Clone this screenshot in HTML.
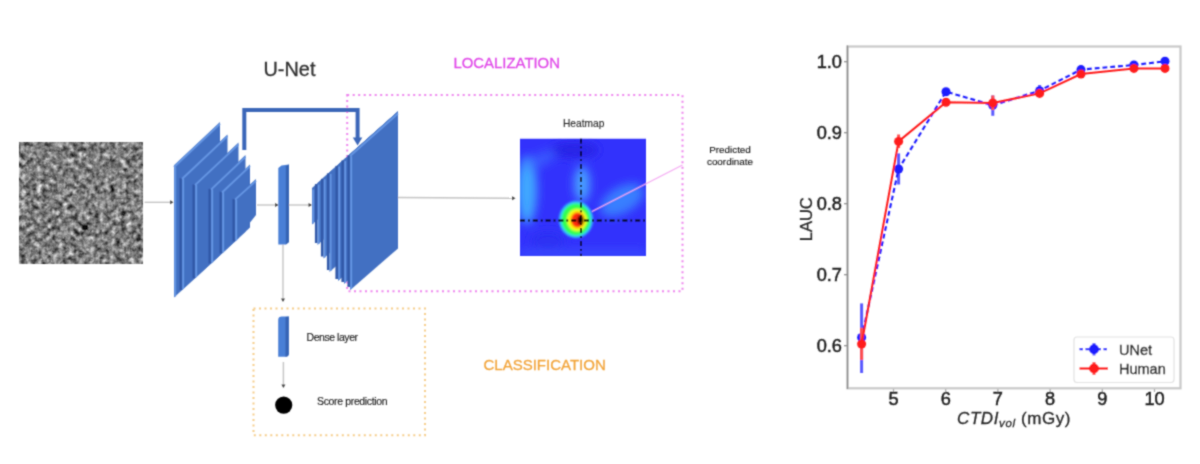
<!DOCTYPE html>
<html><head><meta charset="utf-8">
<style>
html,body{margin:0;padding:0;background:#fff;}
body{width:1200px;height:464px;position:relative;overflow:hidden;font-family:"Liberation Sans",sans-serif;}
#wrap{position:absolute;left:0;top:0;width:1200px;height:464px;filter:url(#gb);}
svg{position:absolute;left:0;top:0;}
.t{position:absolute;white-space:nowrap;line-height:1;-webkit-text-stroke:0.3px currentColor;}
.yl{position:absolute;text-align:right;width:40px;font-size:18.2px;color:#1e1e1e;line-height:1;-webkit-text-stroke:0.5px currentColor;}
.xl{position:absolute;text-align:center;width:40px;font-size:18.2px;color:#1e1e1e;line-height:1;-webkit-text-stroke:0.5px currentColor;}
</style></head><body><svg width="0" height="0" style="position:absolute"><filter id="gb" x="0" y="0" width="100%" height="100%"><feConvolveMatrix order="3" kernelMatrix="0.04 0.11 0.04 0.11 0.4 0.11 0.04 0.11 0.04" edgeMode="duplicate"/></filter></svg><div id="wrap">
<svg width="1200" height="464" viewBox="0 0 1200 464">
<defs>
<filter id="noise" x="0" y="0" width="100%" height="100%" color-interpolation-filters="sRGB">
  <feTurbulence type="fractalNoise" baseFrequency="0.19" numOctaves="4" seed="11" result="t"/>
  <feColorMatrix type="matrix" values="0.33 0.33 0.33 0 0  0.33 0.33 0.33 0 0  0.33 0.33 0.33 0 0  0 0 0 0 1" result="g"/>
  <feComponentTransfer>
    <feFuncR type="linear" slope="2.0" intercept="-0.5"/>
    <feFuncG type="linear" slope="2.0" intercept="-0.5"/>
    <feFuncB type="linear" slope="2.0" intercept="-0.5"/>
  </feComponentTransfer>
</filter>
<filter id="blur1"><feGaussianBlur stdDeviation="0.6"/></filter>
<filter id="hblur" x="-20%" y="-20%" width="140%" height="140%"><feGaussianBlur stdDeviation="5"/></filter>
<filter id="hblur2" x="-50%" y="-50%" width="200%" height="200%"><feGaussianBlur stdDeviation="1.2"/></filter>
<clipPath id="hmclip"><rect x="520" y="138.5" width="126" height="117.5"/></clipPath>
</defs>
<rect x="19.5" y="142" width="123" height="121.5" fill="#808080"/>
<rect x="19.5" y="142" width="123" height="121.5" filter="url(#noise)"/>
<ellipse cx="85" cy="227.5" rx="3.3" ry="3" fill="#080808"/>
<rect x="347.2" y="95" width="335.3" height="196.2" fill="none" stroke="#ee84ee" stroke-width="2" stroke-dasharray="2 3.5"/>
<rect x="253.5" y="308.5" width="171.5" height="126.8" fill="none" stroke="#f5cc88" stroke-width="2" stroke-dasharray="2 3.5"/>
<line x1="144.5" y1="202.3" x2="172" y2="202.3" stroke="#c4c4c4" stroke-width="1.4"/>
<path d="M173.5,202.3 l-3.5,-2 l0,4 z" fill="#444"/>
<line x1="257" y1="205" x2="278" y2="205" stroke="#c4c4c4" stroke-width="1.4"/>
<path d="M278.5,205 l-3.5,-2 l0,4 z" fill="#444"/>
<line x1="289" y1="205" x2="311" y2="205" stroke="#c4c4c4" stroke-width="1.4"/>
<path d="M312,205 l-3.5,-2 l0,4 z" fill="#444"/>
<line x1="398" y1="197.5" x2="512" y2="198.3" stroke="#c4c4c4" stroke-width="1.4"/>
<path d="M515.5,198.3 l-3.5,-2 l0,4 z" fill="#444"/>
<line x1="283" y1="244.5" x2="283" y2="300" stroke="#c4c4c4" stroke-width="1.4"/>
<path d="M283,302 l-2,-3.5 l4,0 z" fill="#444"/>
<line x1="283.4" y1="362" x2="283.4" y2="386" stroke="#c4c4c4" stroke-width="1.4"/>
<path d="M283.4,388 l-2,-3.5 l4,0 z" fill="#444"/>
<path d="M174.0,297.5 L174.0,165.2 L220.0,122.0 L220.0,255.2 Z" fill="#4270c2"/>
<path d="M174.0,167.0 L220.0,123.8" stroke="#6596e4" stroke-width="1.8" fill="none"/>
<path d="M175.2,166.7 L175.2,296.5" stroke="#6596e4" stroke-width="1.8" fill="none"/>
<path d="M180.7,178.2 L180.7,290.1" stroke="#3159a8" stroke-width="2.6" fill="none"/>
<path d="M182.0,290.1 L182.0,177.2 L227.5,134.4 L227.5,248.3 Z" fill="#4270c2"/>
<path d="M182.0,179.0 L227.5,136.2" stroke="#6596e4" stroke-width="1.8" fill="none"/>
<path d="M183.2,178.7 L183.2,289.1" stroke="#6596e4" stroke-width="1.8" fill="none"/>
<path d="M193.7,184.4 L193.7,278.2" stroke="#3159a8" stroke-width="2.6" fill="none"/>
<path d="M195.0,278.2 L195.0,183.4 L238.5,142.5 L238.5,238.2 Z" fill="#4270c2"/>
<path d="M195.0,185.2 L238.5,144.3" stroke="#6596e4" stroke-width="1.8" fill="none"/>
<path d="M196.2,184.9 L196.2,277.2" stroke="#6596e4" stroke-width="1.8" fill="none"/>
<path d="M209.7,188.8 L209.7,263.5" stroke="#3159a8" stroke-width="2.6" fill="none"/>
<path d="M211.0,263.5 L211.0,187.8 L245.5,155.0 L245.5,231.7 Z" fill="#4270c2"/>
<path d="M211.0,189.6 L245.5,156.8" stroke="#6596e4" stroke-width="1.8" fill="none"/>
<path d="M212.2,189.3 L212.2,262.5" stroke="#6596e4" stroke-width="1.8" fill="none"/>
<path d="M220.7,191.7 L220.7,253.3" stroke="#3159a8" stroke-width="2.6" fill="none"/>
<path d="M222.0,253.3 L222.0,190.7 L250.0,164.4 L250.0,227.6 Z" fill="#4270c2"/>
<path d="M222.0,192.5 L250.0,166.2" stroke="#6596e4" stroke-width="1.8" fill="none"/>
<path d="M223.2,192.2 L223.2,252.3" stroke="#6596e4" stroke-width="1.8" fill="none"/>
<path d="M233.7,198.9 L233.7,241.4" stroke="#3159a8" stroke-width="2.6" fill="none"/>
<path d="M235.0,241.4 L235.0,197.9 L256.0,179.0 L256.0,215.0 Z" fill="#4270c2"/>
<path d="M235.0,199.7 L256.0,180.8" stroke="#6596e4" stroke-width="1.8" fill="none"/>
<path d="M236.2,199.4 L236.2,240.4" stroke="#6596e4" stroke-width="1.8" fill="none"/>
<path d="M244.3,150 L244.3,110 L357.6,110 L357.6,139" stroke="#3a66b8" stroke-width="4" fill="none" stroke-linejoin="miter"/>
<path d="M352.8,137.5 L362.3,137.5 L357.6,145.5 Z" fill="#3a66b8"/>
<path d="M278.3,168 L281.5,165.5 L289,164.5 L289,242 L286,244.5 L278.3,244.5 Z" fill="#4a7fd6"/>
<path d="M285.8,166 L289,164.5 L289,242 L285.8,244.5 Z" fill="#3563b4"/>
<path d="M312,224.6 L312,188.0 L398,111.5 L398,148.1 Z" fill="#4270c2"/>
<path d="M313.2,189.5 L313.2,223.6" stroke="#6596e4" stroke-width="1.6" fill="none"/>
<path d="M316.2,184.1 L316.2,243.0" stroke="#3159a8" stroke-width="2.6" fill="none"/>
<path d="M317.5,245.0 L317.5,183.1 L398,111.5 L398,173.4 Z" fill="#4270c2"/>
<path d="M318.7,184.6 L318.7,244.0" stroke="#6596e4" stroke-width="1.6" fill="none"/>
<path d="M322.2,178.8 L322.2,256.5" stroke="#3159a8" stroke-width="2.6" fill="none"/>
<path d="M323.5,258.5 L323.5,177.8 L398,111.5 L398,192.2 Z" fill="#4270c2"/>
<path d="M324.7,179.3 L324.7,257.5" stroke="#6596e4" stroke-width="1.6" fill="none"/>
<path d="M328.2,173.4 L328.2,270.0" stroke="#3159a8" stroke-width="2.6" fill="none"/>
<path d="M329.5,272.0 L329.5,172.4 L398,111.5 L398,211.0 Z" fill="#4270c2"/>
<path d="M330.7,173.9 L330.7,271.0" stroke="#6596e4" stroke-width="1.6" fill="none"/>
<path d="M336.7,165.9 L336.7,279.0" stroke="#3159a8" stroke-width="2.6" fill="none"/>
<path d="M338.0,281.0 L338.0,164.9 L398,111.5 L398,227.6 Z" fill="#4270c2"/>
<path d="M339.2,166.4 L339.2,280.0" stroke="#6596e4" stroke-width="1.6" fill="none"/>
<path d="M342.7,160.5 L342.7,282.0" stroke="#3159a8" stroke-width="2.6" fill="none"/>
<path d="M344.0,284.0 L344.0,159.5 L398,111.5 L398,235.9 Z" fill="#4270c2"/>
<path d="M345.2,161.0 L345.2,283.0" stroke="#6596e4" stroke-width="1.6" fill="none"/>
<path d="M348.7,155.2 L348.7,287" stroke="#3159a8" stroke-width="2.6" fill="none"/>
<path d="M350.0,290.3 L350.0,154.2 L398.0,111.5 L398.0,248.4 Z" fill="#4270c2"/>
<path d="M350.0,156.2 L398.0,113.5" stroke="#6596e4" stroke-width="1.8" fill="none"/>
<path d="M351.2,156.2 L351.2,289" stroke="#6596e4" stroke-width="1.8" fill="none"/>
<path d="M278.2,320 Q278.2,316.6 282,316.6 L288.8,316.6 L288.8,353.5 Q288.8,356.8 285.5,356.8 L278.2,356.8 Z" fill="#4a7fd6"/>
<path d="M285.5,317 L288.8,316.6 L288.8,353.5 Q288.8,356.8 285.5,356.8 Z" fill="#3563b4"/>
<circle cx="283.7" cy="405.1" r="8.6" fill="#000"/>
<g clip-path="url(#hmclip)">
<rect x="520" y="138.5" width="126" height="117.5" fill="#3232fc"/>
<g filter="url(#hblur)">
<ellipse cx="527" cy="190" rx="10" ry="34" fill="#40a8ff" opacity="1"/>
<ellipse cx="540" cy="160" rx="18" ry="7" fill="#3a70ff" opacity="0.6" transform="rotate(-25 540 160)"/>
<ellipse cx="582" cy="184" rx="8" ry="18" fill="#48a8ff" opacity="0.95"/>
<ellipse cx="622" cy="200" rx="24" ry="13" fill="#3a8cff" opacity="0.85" transform="rotate(-30 622 200)"/>
<ellipse cx="575" cy="150" rx="24" ry="8" fill="#2422e0" opacity="0.8"/>
<ellipse cx="548" cy="240" rx="18" ry="9" fill="#2a2cf0" opacity="0.7"/>
<rect x="520" y="250" width="126" height="8" fill="#3a5cff" opacity="0.6"/>
</g>
<g filter="url(#hblur2)">
<ellipse cx="576" cy="219.5" rx="16.8" ry="18.2" fill="#30d0ff"/>
<ellipse cx="576" cy="219.5" rx="14.5" ry="16" fill="#30ff50"/>
<ellipse cx="577" cy="220" rx="10" ry="11" fill="#f8ff10"/>
<ellipse cx="577.5" cy="220" rx="6.8" ry="7.8" fill="#ff2a10"/>
<ellipse cx="580.5" cy="220" rx="3" ry="4.5" fill="#000"/>
</g>
<line x1="520" y1="220.5" x2="646" y2="220.5" stroke="#000" stroke-width="1.8" stroke-dasharray="5 3 1.8 3"/>
<line x1="581" y1="138.5" x2="581" y2="256" stroke="#000" stroke-width="1.8" stroke-dasharray="5 3 1.8 3"/>
</g>
<line x1="592" y1="211.5" x2="682.5" y2="165" stroke="#f4a8f2" stroke-width="1.1"/>
<rect x="847.5" y="46.5" width="333" height="341.8" fill="none" stroke="#c8c8c8" stroke-width="2.2"/>
<line x1="847.5" y1="45.5" x2="847.5" y2="389" stroke="#8a8a8a" stroke-width="1.4"/>
<line x1="844" y1="345.7" x2="847" y2="345.7" stroke="#888" stroke-width="1.2"/>
<line x1="844" y1="274.7" x2="847" y2="274.7" stroke="#888" stroke-width="1.2"/>
<line x1="844" y1="203.7" x2="847" y2="203.7" stroke="#888" stroke-width="1.2"/>
<line x1="844" y1="132.7" x2="847" y2="132.7" stroke="#888" stroke-width="1.2"/>
<line x1="844" y1="61.7" x2="847" y2="61.7" stroke="#888" stroke-width="1.2"/>
<line x1="893.5" y1="389" x2="893.5" y2="392" stroke="#aaa" stroke-width="1.2"/>
<line x1="945.7" y1="389" x2="945.7" y2="392" stroke="#aaa" stroke-width="1.2"/>
<line x1="997.9" y1="389" x2="997.9" y2="392" stroke="#aaa" stroke-width="1.2"/>
<line x1="1050.1" y1="389" x2="1050.1" y2="392" stroke="#aaa" stroke-width="1.2"/>
<line x1="1102.3" y1="389" x2="1102.3" y2="392" stroke="#aaa" stroke-width="1.2"/>
<line x1="1154.5" y1="389" x2="1154.5" y2="392" stroke="#aaa" stroke-width="1.2"/>
<line x1="861.6" y1="303.4" x2="861.6" y2="373.0" stroke="#5a5aff" stroke-width="3"/>
<line x1="898.6" y1="153.4" x2="898.6" y2="184.5" stroke="#5a5aff" stroke-width="3"/>
<line x1="992.8" y1="95.5" x2="992.8" y2="115.8" stroke="#5a5aff" stroke-width="3"/>
<line x1="1039.6" y1="85" x2="1039.6" y2="96" stroke="#5a5aff" stroke-width="3"/>
<line x1="1081.0" y1="66" x2="1081.0" y2="73" stroke="#5a5aff" stroke-width="3"/>
<line x1="1133.9" y1="62" x2="1133.9" y2="68" stroke="#5a5aff" stroke-width="3"/>
<line x1="1165.0" y1="58" x2="1165.0" y2="64.5" stroke="#5a5aff" stroke-width="3"/>
<line x1="946.0" y1="88" x2="946.0" y2="95" stroke="#5a5aff" stroke-width="3"/>
<polyline points="861.6,337.5 898.6,169.0 946.0,91.7 992.8,105.3 1039.6,90.7 1081.0,69.6 1133.9,65.0 1165.0,61.3" fill="none" stroke="#1a1aff" stroke-width="2.1" stroke-dasharray="4.8 3"/>
<circle cx="861.6" cy="337.5" r="4.5" fill="#1a1aff"/>
<circle cx="898.6" cy="169.0" r="4.5" fill="#1a1aff"/>
<circle cx="946.0" cy="91.7" r="4.5" fill="#1a1aff"/>
<circle cx="992.8" cy="105.3" r="4.5" fill="#1a1aff"/>
<circle cx="1039.6" cy="90.7" r="4.5" fill="#1a1aff"/>
<circle cx="1081.0" cy="69.6" r="4.5" fill="#1a1aff"/>
<circle cx="1133.9" cy="65.0" r="4.5" fill="#1a1aff"/>
<circle cx="1165.0" cy="61.3" r="4.5" fill="#1a1aff"/>
<line x1="861.6" y1="327.8" x2="861.6" y2="360.0" stroke="#ff5050" stroke-width="3"/>
<line x1="898.6" y1="134.5" x2="898.6" y2="148.0" stroke="#ff5050" stroke-width="3"/>
<line x1="992.8" y1="95.5" x2="992.8" y2="110.0" stroke="#ff5050" stroke-width="3"/>
<line x1="1039.6" y1="89" x2="1039.6" y2="97" stroke="#ff5050" stroke-width="3"/>
<line x1="1081.0" y1="71" x2="1081.0" y2="77" stroke="#ff5050" stroke-width="3"/>
<line x1="1133.9" y1="65" x2="1133.9" y2="72" stroke="#ff5050" stroke-width="3"/>
<line x1="1165.0" y1="65" x2="1165.0" y2="72" stroke="#ff5050" stroke-width="3"/>
<line x1="946.0" y1="99" x2="946.0" y2="105" stroke="#ff5050" stroke-width="3"/>
<polyline points="861.6,344.0 898.6,141.4 946.0,102.3 992.8,103.0 1039.6,93.4 1081.0,74.1 1133.9,68.4 1165.0,68.4" fill="none" stroke="#ff1a1a" stroke-width="2.0"/>
<circle cx="861.6" cy="344.0" r="4.5" fill="#ff1a1a"/>
<circle cx="898.6" cy="141.4" r="4.5" fill="#ff1a1a"/>
<circle cx="946.0" cy="102.3" r="4.5" fill="#ff1a1a"/>
<circle cx="992.8" cy="103.0" r="4.5" fill="#ff1a1a"/>
<circle cx="1039.6" cy="93.4" r="4.5" fill="#ff1a1a"/>
<circle cx="1081.0" cy="74.1" r="4.5" fill="#ff1a1a"/>
<circle cx="1133.9" cy="68.4" r="4.5" fill="#ff1a1a"/>
<circle cx="1165.0" cy="68.4" r="4.5" fill="#ff1a1a"/>
<rect x="1074" y="337" width="100" height="45.5" rx="3" fill="#fff" fill-opacity="0.85" stroke="#e2e2e2" stroke-width="1.2"/>
<line x1="1079.5" y1="349.2" x2="1108" y2="349.2" stroke="#1a1aff" stroke-width="2.2" stroke-dasharray="3.5 2.5"/>
<line x1="1094" y1="343" x2="1094" y2="355.5" stroke="#5a5aff" stroke-width="3"/>
<circle cx="1094" cy="349.2" r="5" fill="#1a1aff"/>
<line x1="1079.5" y1="368.5" x2="1108" y2="368.5" stroke="#ff1a1a" stroke-width="2.4"/>
<line x1="1094" y1="362" x2="1094" y2="375" stroke="#ff5050" stroke-width="3"/>
<circle cx="1094" cy="368.5" r="5" fill="#ff1a1a"/>
</svg>
<div class="t" style="left:263.5px;top:59.5px;font-size:19.9px;color:#303030;">U-Net</div>
<div class="t" style="left:453.5px;top:56px;font-size:14.9px;color:#e048e8;">LOCALIZATION</div>
<div class="t" style="left:483.5px;top:356.5px;font-size:15px;color:#f2a43a;">CLASSIFICATION</div>
<div class="t" style="left:563px;top:118.5px;font-size:10.2px;color:#222;-webkit-text-stroke:0.1px currentColor;">Heatmap</div>
<div class="t" style="left:680px;top:145px;width:100px;text-align:center;font-size:9.9px;color:#1a1a1a;-webkit-text-stroke:0.15px currentColor;">Predicted</div>
<div class="t" style="left:680px;top:157px;width:100px;text-align:center;font-size:9.9px;color:#1a1a1a;-webkit-text-stroke:0.15px currentColor;">coordinate</div>
<div class="t" style="left:306.5px;top:332px;font-size:10.5px;letter-spacing:-0.45px;color:#222;-webkit-text-stroke:0.15px currentColor;">Dense layer</div>
<div class="t" style="left:317px;top:395.5px;font-size:10.5px;letter-spacing:-0.35px;color:#222;-webkit-text-stroke:0.15px currentColor;">Score prediction</div>
<div class="yl" style="left:802px;top:53.2px;">1.0</div>
<div class="yl" style="left:802px;top:124.2px;">0.9</div>
<div class="yl" style="left:802px;top:195.2px;">0.8</div>
<div class="yl" style="left:802px;top:266.2px;">0.7</div>
<div class="yl" style="left:802px;top:337.2px;">0.6</div>
<div class="xl" style="left:873.5px;top:390px;">5</div>
<div class="xl" style="left:925.7px;top:390px;">6</div>
<div class="xl" style="left:977.9px;top:390px;">7</div>
<div class="xl" style="left:1030.1px;top:390px;">8</div>
<div class="xl" style="left:1082.3px;top:390px;">9</div>
<div class="xl" style="left:1134.5px;top:390px;">10</div>
<div class="t" style="left:957px;top:409.5px;font-size:17px;letter-spacing:0.6px;color:#262626;"><i>CTDI</i><sub style="font-size:11.5px;vertical-align:-3px;"><i>vol</i></sub> (mGy)</div>
<div class="t" style="left:784px;top:211px;font-size:16.5px;color:#262626;transform:rotate(-90deg);transform-origin:center;">LAUC</div>
<div class="t" style="left:1119px;top:342.8px;font-size:14.5px;color:#2a2a2a;-webkit-text-stroke:0.45px currentColor;">UNet</div>
<div class="t" style="left:1119px;top:361.8px;font-size:14.5px;color:#2a2a2a;-webkit-text-stroke:0.45px currentColor;">Human</div>
</div></body></html>
